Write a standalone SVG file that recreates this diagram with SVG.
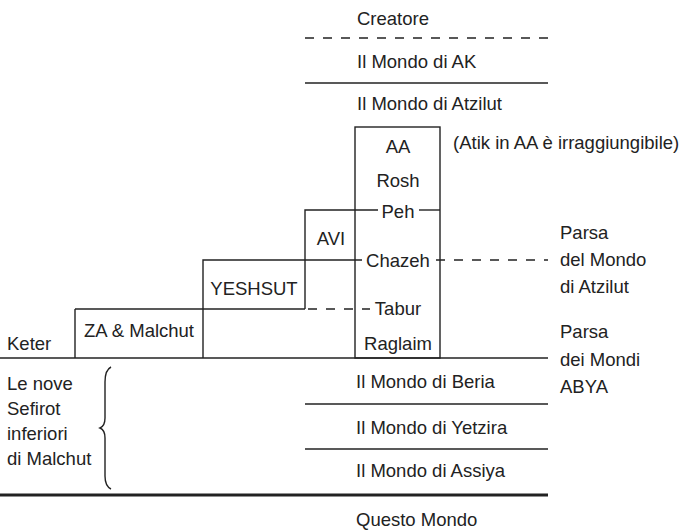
<svg xmlns="http://www.w3.org/2000/svg" width="688" height="530" viewBox="0 0 688 530">
  <style>
    text { font-family: "Liberation Sans", Arial, sans-serif; font-size: 18.5px; fill: #222; }
    .c { text-anchor: middle; }
    .ln { stroke: #222; stroke-width: 1.4; fill: none; }
    .dash { stroke: #222; stroke-width: 1.4; fill: none; stroke-dasharray: 9 9; }
    .thick { stroke: #222; stroke-width: 3.2; fill: none; }
  </style>
  <rect width="688" height="530" fill="#fff"/>

  <!-- world levels -->
  <g id="creatore">
    <text x="357" y="25">Creatore</text>
    <line class="dash" x1="305" y1="38" x2="548" y2="38"/>
  </g>
  <g id="mondo-ak">
    <text x="357" y="68">Il Mondo di AK</text>
    <line class="ln" x1="305" y1="83" x2="548" y2="83"/>
  </g>
  <g id="mondo-atzilut">
    <text x="357" y="110">Il Mondo di Atzilut</text>
  </g>

  <!-- AA column -->
  <g id="aa">
    <rect class="ln" x="355" y="127" width="85" height="231"/>
    <text class="c" x="398" y="153">AA</text>
    <text class="c" x="398" y="187">Rosh</text>
    <text class="c" x="398" y="218">Peh</text>
    <text class="c" x="398" y="267">Chazeh</text>
    <text class="c" x="398" y="315">Tabur</text>
    <text class="c" x="398" y="350">Raglaim</text>
  </g>
  <text x="453" y="149">(Atik in AA è irraggiungibile)</text>

  <g id="avi">
    <polyline class="ln" points="305,309 305,210 378,210"/>
    <line class="ln" x1="419" y1="210" x2="440" y2="210"/>
    <text class="c" x="331" y="245">AVI</text>
  </g>

  <g id="yeshsut">
    <polyline class="ln" points="203,358 203,260 362,260"/>
    <line class="ln" x1="75" y1="309" x2="305" y2="309"/>
    <text class="c" x="254" y="295">YESHSUT</text>
  </g>

  <g id="za-malchut">
    <polyline class="ln" points="75,358 75,309"/>
    <text class="c" x="139" y="337">ZA &amp; Malchut</text>
  </g>

  <!-- parsa connectors -->
  <g id="connectors">
    <line class="dash" x1="436" y1="260" x2="548" y2="260" stroke-dasharray="10 8"/>
    <line class="dash" x1="308" y1="309" x2="370" y2="309" stroke-dasharray="10 8"/>
    <line class="ln" x1="0" y1="358" x2="548" y2="358"/>
    <line class="ln" x1="305" y1="404" x2="548" y2="404"/>
    <line class="ln" x1="305" y1="449" x2="548" y2="449"/>
    <line class="thick" x1="0" y1="495" x2="548" y2="495"/>
  </g>

  <g id="parsa-atzilut">
    <text x="560" y="239">Parsa</text>
    <text x="560" y="266">del Mondo</text>
    <text x="560" y="293">di Atzilut</text>
  </g>
  <g id="parsa-abya">
    <text x="560" y="338">Parsa</text>
    <text x="560" y="366">dei Mondi</text>
    <text x="560" y="393">ABYA</text>
  </g>

  <g id="keter">
    <text x="7" y="350">Keter</text>
  </g>

  <g id="sefirot-inferiori">
    <text x="7" y="390">Le nove</text>
    <text x="7" y="415">Sefirot</text>
    <text x="7" y="440">inferiori</text>
    <text x="7" y="465">di Malchut</text>
    <path class="ln" stroke-width="1.2" d="M111,367 Q105,370 105,382 L105,418 Q105,426 100,428 Q105,430 105,438 L105,476 Q105,486 111,489"/>
  </g>

  <g id="mondi-inferiori">
    <text x="356" y="388">Il Mondo di Beria</text>
    <text x="356" y="434">Il Mondo di Yetzira</text>
    <text x="356" y="477">Il Mondo di Assiya</text>
  </g>

  <g id="questo-mondo">
    <text x="356" y="526">Questo Mondo</text>
  </g>
</svg>
